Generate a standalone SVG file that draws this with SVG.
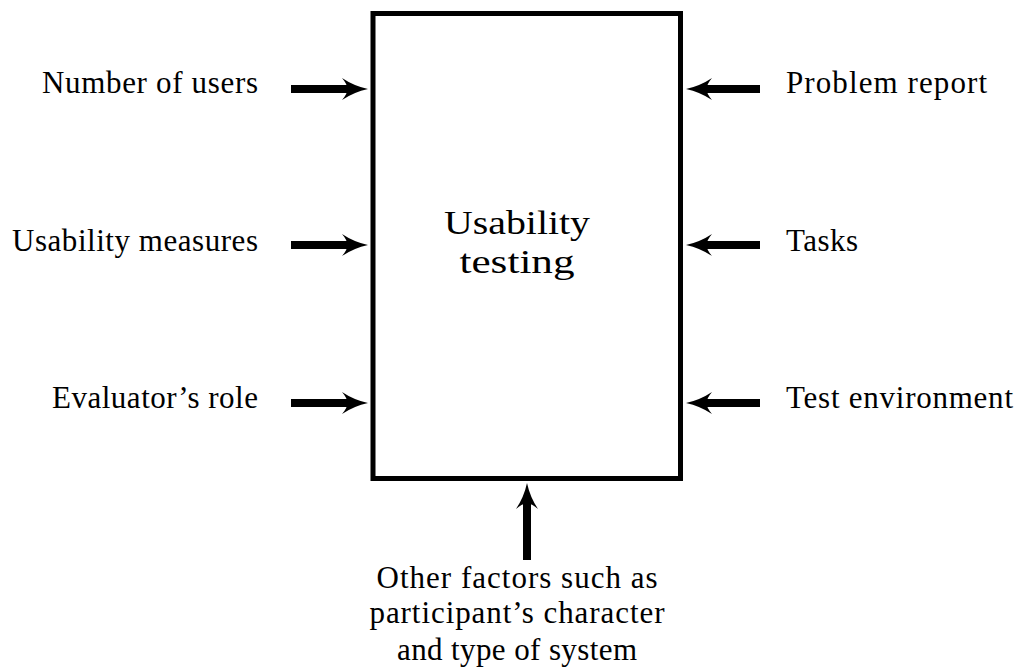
<svg xmlns="http://www.w3.org/2000/svg" width="1019" height="668" viewBox="0 0 1019 668">
<style>
text{font-family:"Liberation Serif","DejaVu Serif",serif;fill:#000}
.lbl{font-size:31px}
.ctr{font-size:34px;text-anchor:middle}
.bot{font-size:31px;text-anchor:middle}
.r{text-anchor:end}
.conn{stroke:#000;stroke-width:8;fill:none;marker-end:url(#ah)}
</style>
<defs>
<marker id="ah" markerUnits="userSpaceOnUse" markerWidth="40" markerHeight="30" refX="0" refY="0" viewBox="-10 -15 40 30" orient="auto" overflow="visible">
<path d="M18,0 Q4,-3 -8,-11 Q-2,-4 -3,0 Q-2,4 -8,11 Q4,3 18,0 Z" fill="#000"/>
</marker>
</defs>
<g id="box">
<rect x="373" y="13.5" width="307.5" height="465" fill="#fff" stroke="#000" stroke-width="5"/>
<text class="ctr" x="517" y="234" textLength="146" lengthAdjust="spacingAndGlyphs">Usability</text>
<text class="ctr" x="517" y="273" textLength="115" lengthAdjust="spacingAndGlyphs">testing</text>
</g>
<g id="connectors">
<line class="conn" x1="291" y1="89" x2="350" y2="89"/>
<line class="conn" x1="291" y1="245" x2="350" y2="245"/>
<line class="conn" x1="291" y1="403" x2="350" y2="403"/>
<line class="conn" x1="760" y1="89" x2="704" y2="89"/>
<line class="conn" x1="760" y1="245" x2="704" y2="245"/>
<line class="conn" x1="760" y1="403" x2="704" y2="403"/>
<line class="conn" x1="527" y1="560" x2="527" y2="501"/>
</g>
<g id="n-users"><text class="lbl r" x="258" y="93" textLength="216">Number of users</text></g>
<g id="n-measures"><text class="lbl r" x="258" y="251" textLength="246">Usability measures</text></g>
<g id="n-role"><text class="lbl r" x="258" y="408" textLength="206">Evaluator’s role</text></g>
<g id="n-report"><text class="lbl" x="786" y="93" textLength="201">Problem report</text></g>
<g id="n-tasks"><text class="lbl" x="786" y="251" textLength="72">Tasks</text></g>
<g id="n-env"><text class="lbl" x="786" y="408" textLength="227">Test environment</text></g>
<g id="n-other">
<text class="bot" x="517" y="588" textLength="281">Other factors such as</text>
<text class="bot" x="517" y="623" textLength="295">participant’s character</text>
<text class="bot" x="517" y="660" textLength="240">and type of system</text>
</g>
</svg>
